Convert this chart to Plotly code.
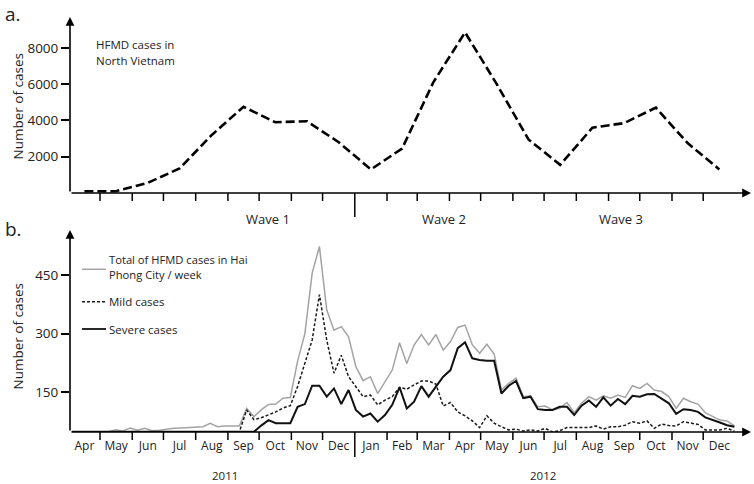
import pandas as pd
import plotly.graph_objects as go

# ---------------- data ----------------
# Panel a: monthly HFMD cases in North Vietnam, Apr 2011 .. Dec 2012
north_cases = [100, 100, 560, 1350, 3200, 4750, 3900, 3950, 2800,
               1300, 2450, 6100, 8850, 6000, 2950, 1550, 3600, 3850, 4700, 2750, 1300]

# Panel b: weekly HFMD cases in Hai Phong City, weeks starting 2011-04-04
week_start = "2011-04-04"
total_cases = [49, 49, 49, 49, 49, 49,
               54, 51, 59, 53, 58, 52, 53, 56, 58, 59, 60, 60, 62, 71, 62, 64, 64, 64,
               109,
               88, 105, 119, 120, 135, 137,
               230, 300, 455, 523, 361, 309, 318, 292, 216, 180,
               190, 147, 177, 207, 277, 224, 271, 298, 271, 298,
               258, 280, 316, 322, 272, 250,
               273, 248, 156, 173, 186, 139, 141, 113, 115, 105,
               109, 124, 98, 122, 139, 130, 141, 135, 143, 137,
               167, 160, 173, 156, 152, 139, 109, 135, 126, 120,
               98, 88, 79, 77, 64]
mild_cases = [49] * 24 + [
               105, 80, 85, 92, 100, 110, 116,
               165, 225, 284, 400, 284, 199, 245, 190, 164, 139,
               143, 118, 130, 139, 163, 158, 169, 179, 179, 171,
               115, 124, 100, 90, 77, 60, 90, 71, 62, 54,
               56, 51, 54, 51, 58, 49, 52, 60, 60, 60,
               60, 64, 56, 62, 62, 66, 75, 71, 77, 58,
               69, 65, 64, 75, 71, 68, 54, 54, 54, 58,
               51]
severe_cases = [49] * 25 + [
               49, 65, 79, 71, 71, 71,
               113, 120, 167, 167, 139, 160, 120, 156, 105, 88,
               96, 75, 92, 118, 163, 109, 126, 166, 139, 163,
               190, 207, 263, 278, 237, 233, 231, 231, 147, 167,
               179, 135, 139, 107, 105, 105, 113, 113, 92, 116,
               129, 113, 137, 116, 133, 120, 141, 139, 145, 146,
               135, 122, 95, 107, 105, 100, 86, 80, 73, 66,
               62]

month_labels = ["Apr", "May", "Jun", "Jul", "Aug", "Sep", "Oct", "Nov", "Dec",
                "Jan", "Feb", "Mar", "Apr", "May", "Jun", "Jul", "Aug", "Sep", "Oct", "Nov", "Dec"]
year_labels = ["2011", "2012"]
wave_labels = ["Wave 1", "Wave 2", "Wave 3"]
a_ticks = [2000, 4000, 6000, 8000]
b_ticks = [150, 300, 450]

# ---------------- derived ----------------
bounds = pd.date_range("2011-04-01", periods=len(month_labels) + 1, freq="MS")
mids = [bounds[i] + (bounds[i + 1] - bounds[i]) / 2 for i in range(len(month_labels))]
weeks = pd.date_range(week_start, periods=len(total_cases), freq="7D")

FONT = "Open Sans"
TXT = "#222222"
W, H = 754, 484
L, R = 70, 6
PW = W - L - R


def px(x):
    return (x - L) / PW


def py(y):
    return 1 - y / H


xrange_ = ["2011-04-02 03:40:00", "2013-01-13 02:00:00"]
YB0 = 48.6

fig = go.Figure()
fig.add_trace(go.Scatter(x=mids, y=north_cases, mode="lines", xaxis="x", yaxis="y",
                         line=dict(color="black", width=2.6, dash="9px,4px"),
                         showlegend=False, hoverinfo="skip"))
fig.add_trace(go.Scatter(x=weeks, y=total_cases, mode="lines", xaxis="x2", yaxis="y2",
                         line=dict(color="#a3a3a3", width=1.5), showlegend=False))
fig.add_trace(go.Scatter(x=weeks, y=mild_cases, mode="lines", xaxis="x2", yaxis="y2",
                         line=dict(color="#1a1a1a", width=1.5, dash="3px,2px"), showlegend=False))
fig.add_trace(go.Scatter(x=weeks, y=severe_cases, mode="lines", xaxis="x2", yaxis="y2",
                         line=dict(color="#111111", width=2), showlegend=False))

shapes = []
div = pd.Timestamp("2012-01-01")
for d in bounds[1:-1]:
    long_ = d == div
    shapes.append(dict(type="line", xref="x", yref="paper", x0=d, x1=d,
                       y0=py(193), y1=py(217 if long_ else 201),
                       line=dict(color="black", width=1.5)))
    shapes.append(dict(type="line", xref="x2", yref="paper", x0=d, x1=d,
                       y0=py(432), y1=py(457 if long_ else 440),
                       line=dict(color="black", width=1.5)))
# legend keys (panel b)
shapes.append(dict(type="line", xref="paper", yref="paper", x0=px(82), x1=px(106),
                   y0=py(269.3), y1=py(269.3), line=dict(color="#a3a3a3", width=1.5)))
shapes.append(dict(type="line", xref="paper", yref="paper", x0=px(82), x1=px(106),
                   y0=py(301.7), y1=py(301.7), line=dict(color="#1a1a1a", width=1.5, dash="3px,2px")))
shapes.append(dict(type="line", xref="paper", yref="paper", x0=px(82), x1=px(106),
                   y0=py(329), y1=py(329), line=dict(color="#111111", width=1.8)))

ann = []


def arrow(tx, ty, ax, ay):
    ann.append(dict(xref="paper", yref="paper", x=px(tx), y=py(ty), ax=ax, ay=ay,
                    axref="pixel", ayref="pixel", text="", showarrow=True,
                    arrowhead=2, arrowsize=1.1, arrowwidth=1.6, arrowcolor="black", standoff=0))


arrow(70, 17, 0, 176)
arrow(751, 193, -681, 0)
arrow(70, 230, 0, 202)
arrow(751, 432, -681, 0)


def text(t, x, y, size, anchor="left", angle=0):
    ann.append(dict(xref="paper", yref="paper", x=px(x), y=py(y), text=t, showarrow=False,
                    xanchor=anchor, yanchor="middle", textangle=angle, align=anchor,
                    font=dict(family=FONT, size=size, color=TXT)))


text("a.", 3, 14, 19)
text("b.", 3, 229, 19)
text("HFMD cases in", 94, 45, 11.5)
text("North Vietnam", 94, 60, 11.5)
text("Number of cases", 17, 106.5, 13.5, "center", -90)
text("Number of cases", 17, 336.5, 13.5, "center", -90)
for lab, xc in zip(wave_labels, [268, 443.7, 621]):
    text(lab, xc, 219, 13, "center")
text("Total of HFMD cases in Hai<br>Phong City / week", 107, 267, 11.2)
text("Mild cases", 107, 301.7, 11.5)
text("Severe cases", 107, 329, 11.5)
for lab, xc in zip(year_labels, [225, 543]):
    text(lab, xc, 475, 11.5, "center")

axis_common = dict(showgrid=False, zeroline=False, showline=False)
fig.update_layout(
    width=W, height=H,
    margin=dict(l=L, r=R, t=0, b=0),
    paper_bgcolor="white", plot_bgcolor="white",
    font=dict(family=FONT, color=TXT),
    xaxis=dict(domain=[0, 1], anchor="y", type="date", range=xrange_,
               showticklabels=False, ticks="", **axis_common),
    yaxis=dict(domain=[py(193), py(20)], anchor="x", range=[0, 9532],
               tickvals=a_ticks, ticks="outside", ticklen=8, tickwidth=1.5, tickcolor="black",
               tickfont=dict(family=FONT, size=13.5, color=TXT), **axis_common),
    xaxis2=dict(domain=[0, 1], anchor="y2", type="date", range=xrange_,
                tickvals=mids, ticktext=month_labels, ticks="", ticklabelstandoff=5,
                tickfont=dict(family=FONT, size=12, color=TXT), **axis_common),
    yaxis2=dict(domain=[py(432), py(230)], anchor="x2", range=[YB0, YB0 + (432 - 230) / 0.391],
                tickvals=b_ticks, ticks="outside", ticklen=8, tickwidth=1.5, tickcolor="black",
                tickfont=dict(family=FONT, size=13.5, color=TXT), **axis_common),
    shapes=shapes,
    annotations=ann,
)

fig.write_html("out.html", config={"displayModeBar": False},
               post_script="document.body.style.margin='0px';")
